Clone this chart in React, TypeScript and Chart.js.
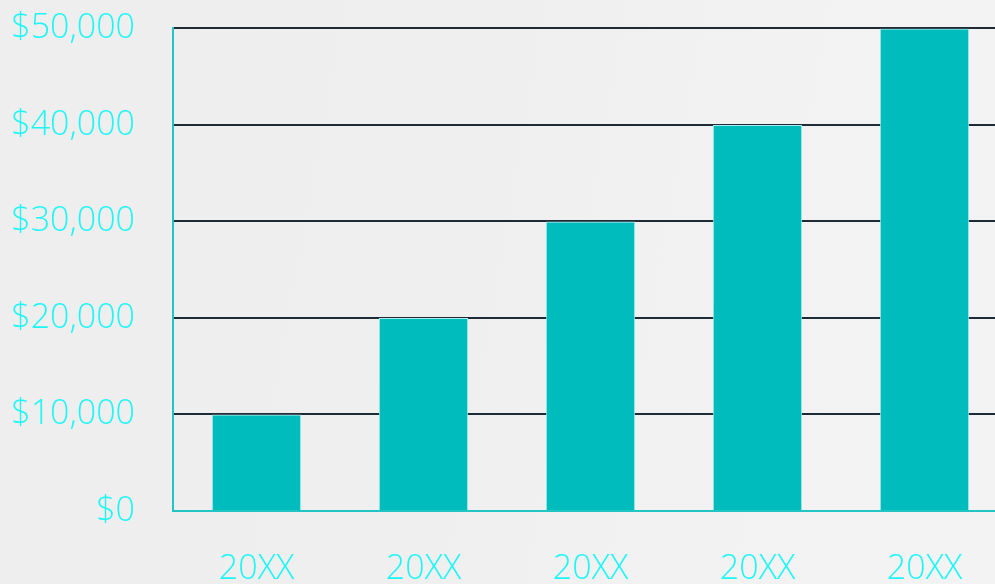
import React, { useEffect, useRef } from "react";
import { Chart, registerables } from "chart.js";

Chart.register(...registerables);

// Revenue by year
const categories = ["20XX", "20XX", "20XX", "20XX", "20XX"];
const revenue = [10000, 20000, 30000, 40000, 50000];
const yTicks = [0, 10000, 20000, 30000, 40000, 50000];

const LABEL_COLOR = "#1ef6f6";
const BAR_COLOR = "#00bcbc";
const GRID_COLOR = "#1f2a37";
const AXIS_COLOR = "#22c4c4";
const FONT = "'Open Sans', 'Noto Sans', sans-serif";

export default function App() {
  const canvasRef = useRef<HTMLCanvasElement | null>(null);

  useEffect(() => {
    const canvas = canvasRef.current;
    if (!canvas) return;
    const chart = new Chart(canvas, {
      type: "bar",
      data: {
        labels: categories,
        datasets: [
          {
            data: revenue,
            backgroundColor: BAR_COLOR,
            borderColor: "#a8ecec",
            borderWidth: 1,
            barPercentage: 0.535,
            categoryPercentage: 1,
          },
        ],
      },
      options: {
        responsive: false,
        animation: false,
        layout: { padding: 0 },
        plugins: { legend: { display: false }, tooltip: { enabled: false } },
        scales: {
          x: {
            grid: { display: true, drawOnChartArea: false, drawTicks: false },
            border: { display: true, color: AXIS_COLOR, width: 2 },
            ticks: {
              color: LABEL_COLOR,
              font: { family: FONT, size: 34, weight: 300 },
              padding: 38,
              maxRotation: 0,
            },
            afterFit: (scale: any) => {
              scale.height = 73;
            },
          },
          y: {
            min: 0,
            max: 50000,
            afterBuildTicks: (scale: any) => {
              scale.ticks = yTicks.map((v) => ({ value: v }));
            },
            grid: {
              drawTicks: false,
              lineWidth: 2,
              color: (ctx: any) =>
                ctx.tick && ctx.tick.value === 0 ? "rgba(0,0,0,0)" : GRID_COLOR,
            },
            border: { display: true, color: AXIS_COLOR, width: 2 },
            ticks: {
              color: LABEL_COLOR,
              font: { family: FONT, size: 34, weight: 300 },
              padding: 38,
              callback: (v: any) => "$" + Number(v).toLocaleString("en-US"),
            },
            afterFit: (scale: any) => {
              scale.width = 173;
            },
          },
        },
      },
    });
    return () => chart.destroy();
  }, []);

  return (
    <div
      style={{
        position: "fixed",
        left: 0,
        top: 0,
        width: 995,
        height: 584,
        overflow: "hidden",
        background:
          "linear-gradient(100deg, #eeeeee 0%, #efefef 45%, #f2f2f2 70%, #f3f3f3 100%)",
      }}
    >
      <canvas
        ref={canvasRef}
        width={1008}
        height={614}
        style={{ display: "block", width: 1008, height: 614, marginTop: -30 }}
      />
    </div>
  );
}
